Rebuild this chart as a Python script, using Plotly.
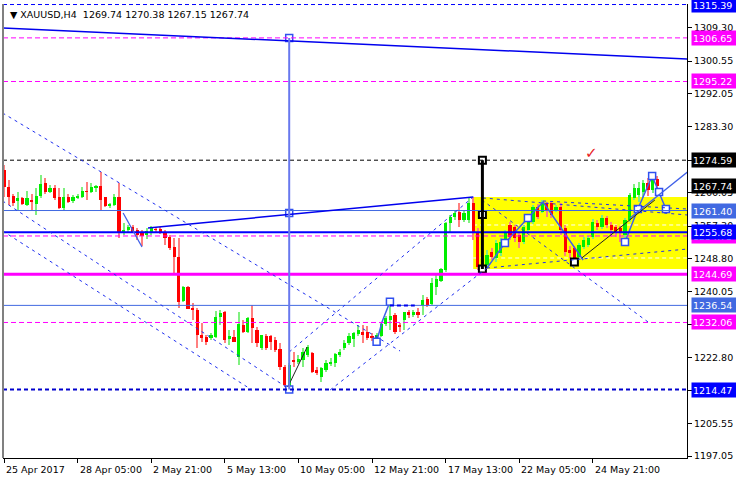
import plotly.graph_objects as go

# ---------------- data ----------------
tick_bars = [0, 16, 32, 48, 64, 80, 96, 112, 128]
tick_labels = ["25 Apr 2017", "28 Apr 05:00", "2 May 21:00", "5 May 13:00", "10 May 05:00",
               "12 May 21:00", "17 May 13:00", "22 May 05:00", "24 May 21:00"]

opens = [1272.02, 1267.57, 1265.21, 1263.90, 1264.69, 1262.85, 1264.16, 1263.11, 1265.21, 1268.62,
         1266.26, 1267.31, 1264.95, 1262.07, 1264.95, 1263.90, 1264.69, 1264.95, 1266.52, 1266.26,
         1267.31, 1267.83, 1264.95, 1262.59, 1262.85, 1264.95, 1255.52, 1256.30, 1257.09, 1256.30,
         1255.78, 1254.99, 1255.78, 1256.56, 1256.56, 1255.78, 1254.47, 1251.85, 1249.23, 1237.70,
         1241.36, 1235.86, 1235.34, 1228.78, 1228.26, 1227.99, 1228.26, 1233.50, 1234.81, 1227.73,
         1228.26, 1223.01, 1231.40, 1229.57, 1233.24, 1230.09, 1225.37, 1228.52, 1228.52, 1227.47,
         1225.11, 1220.39, 1214.89, 1221.97, 1221.70, 1222.23, 1223.54, 1224.06, 1219.61, 1217.77,
         1219.61, 1221.18, 1221.44, 1223.54, 1225.37, 1226.68, 1227.73, 1229.04, 1229.57, 1229.57,
         1228.52, 1227.21, 1228.52, 1231.66, 1232.71, 1234.03, 1231.40, 1232.71, 1234.81, 1234.03,
         1234.81, 1236.65, 1238.22, 1236.91, 1241.36, 1242.94, 1245.82, 1258.14, 1259.71, 1261.02,
         1258.92, 1258.92, 1263.38, 1255.78, 1246.87, 1247.13, 1250.54, 1248.96, 1250.27, 1252.37,
         1257.61, 1257.09, 1254.99, 1253.16, 1256.30, 1258.40, 1262.33, 1261.02, 1263.38, 1263.38,
         1261.54, 1262.33, 1256.83, 1251.06, 1251.58, 1249.23, 1251.85, 1252.37, 1254.47, 1258.14,
         1257.09, 1259.45, 1257.61, 1257.09, 1256.83, 1254.99, 1258.92, 1264.69, 1265.47, 1266.26,
         1268.62, 1266.78, 1269.74]
highs = [1273.33, 1269.40, 1265.73, 1266.26, 1264.95, 1266.52, 1265.73, 1267.31, 1270.71, 1269.92,
         1268.09, 1268.09, 1267.31, 1267.31, 1265.73, 1265.47, 1265.73, 1267.57, 1268.88, 1268.62,
         1268.09, 1271.50, 1264.95, 1263.38, 1265.73, 1268.62, 1258.14, 1257.61, 1257.61, 1256.83,
         1256.30, 1256.83, 1257.35, 1257.09, 1257.09, 1256.30, 1254.99, 1254.20, 1254.20, 1241.63,
         1241.63, 1237.17, 1235.86, 1231.93, 1228.78, 1229.31, 1235.08, 1235.34, 1235.08, 1230.09,
         1230.09, 1234.81, 1232.71, 1233.50, 1236.65, 1230.88, 1228.78, 1229.04, 1228.78, 1228.26,
         1226.68, 1220.92, 1221.44, 1224.33, 1223.54, 1225.37, 1226.16, 1224.33, 1220.39, 1220.39,
         1222.23, 1222.75, 1224.06, 1225.11, 1227.47, 1229.31, 1229.57, 1231.40, 1231.40, 1231.14,
         1229.31, 1229.31, 1232.19, 1233.76, 1237.44, 1234.55, 1231.93, 1234.81, 1235.34, 1235.34,
         1235.86, 1239.27, 1238.74, 1243.72, 1244.51, 1246.34, 1258.40, 1260.23, 1261.28, 1263.38,
         1261.54, 1264.69, 1264.95, 1256.83, 1251.06, 1251.06, 1251.58, 1253.68, 1254.20, 1256.30,
         1258.40, 1257.61, 1255.52, 1257.61, 1260.23, 1262.85, 1263.11, 1264.16, 1263.64, 1263.64,
         1262.85, 1263.38, 1257.61, 1252.11, 1252.11, 1252.89, 1254.47, 1254.73, 1259.18, 1258.92,
         1260.23, 1259.97, 1258.40, 1257.61, 1257.35, 1259.45, 1266.00, 1268.35, 1268.88, 1269.40,
         1269.92, 1270.45, 1270.38]
lows = [1264.95, 1262.85, 1262.59, 1261.54, 1262.85, 1262.59, 1261.54, 1260.23, 1264.69, 1265.73,
        1266.00, 1264.16, 1261.80, 1261.54, 1263.38, 1263.38, 1264.42, 1264.69, 1264.16, 1266.00,
        1266.26, 1261.54, 1262.33, 1262.07, 1262.59, 1254.20, 1254.99, 1255.78, 1255.52, 1253.68,
        1252.11, 1253.94, 1254.99, 1255.52, 1255.25, 1252.37, 1251.06, 1245.03, 1235.86, 1237.44,
        1235.60, 1232.71, 1225.37, 1226.95, 1226.16, 1227.47, 1227.99, 1231.40, 1226.68, 1226.16,
        1226.95, 1220.92, 1229.31, 1229.31, 1226.68, 1225.63, 1224.85, 1224.85, 1224.85, 1224.33,
        1219.61, 1215.20, 1214.47, 1220.39, 1221.18, 1220.39, 1223.01, 1218.82, 1218.30, 1216.46,
        1219.08, 1220.65, 1220.39, 1223.01, 1224.85, 1226.16, 1225.63, 1228.52, 1226.68, 1227.47,
        1227.21, 1226.95, 1228.26, 1231.14, 1230.09, 1229.04, 1229.57, 1230.09, 1233.24, 1233.50,
        1233.24, 1234.03, 1236.12, 1236.65, 1239.27, 1242.68, 1245.30, 1255.78, 1258.92, 1257.09,
        1258.40, 1258.14, 1253.68, 1245.82, 1245.82, 1246.34, 1248.44, 1247.92, 1249.49, 1251.85,
        1253.68, 1253.16, 1251.58, 1252.63, 1255.78, 1257.87, 1259.18, 1260.76, 1259.71, 1259.45,
        1261.02, 1254.99, 1249.49, 1248.96, 1247.92, 1248.70, 1251.32, 1251.85, 1253.94, 1256.30,
        1256.56, 1256.83, 1254.47, 1254.47, 1253.16, 1253.16, 1258.40, 1264.16, 1263.64, 1264.69,
        1265.21, 1266.00, 1267.15]
closes = [1267.57, 1264.95, 1263.38, 1264.69, 1263.11, 1264.69, 1263.64, 1265.21, 1268.35, 1266.26,
          1267.31, 1264.69, 1262.07, 1264.95, 1263.64, 1264.95, 1265.21, 1266.52, 1266.26, 1267.57,
          1267.57, 1264.16, 1262.59, 1263.11, 1264.95, 1255.52, 1256.30, 1257.09, 1255.78, 1254.99,
          1254.73, 1256.04, 1256.83, 1256.30, 1255.78, 1254.20, 1251.58, 1249.23, 1237.44, 1241.36,
          1235.60, 1235.34, 1228.78, 1227.99, 1226.95, 1228.78, 1233.50, 1234.55, 1227.47, 1228.52,
          1226.95, 1231.66, 1229.57, 1233.24, 1230.62, 1226.68, 1228.78, 1225.37, 1226.95, 1224.85,
          1220.39, 1215.67, 1220.92, 1221.70, 1222.49, 1224.33, 1225.63, 1219.08, 1218.82, 1220.13,
          1221.44, 1221.70, 1223.80, 1224.33, 1226.68, 1228.52, 1229.31, 1230.09, 1228.78, 1227.99,
          1227.99, 1228.78, 1231.66, 1233.24, 1233.76, 1229.57, 1230.88, 1234.81, 1234.03, 1234.81,
          1234.03, 1237.96, 1236.65, 1242.41, 1243.46, 1246.08, 1258.14, 1259.71, 1260.76, 1258.92,
          1260.76, 1263.38, 1255.78, 1246.61, 1249.75, 1249.75, 1249.23, 1252.89, 1253.16, 1255.52,
          1254.47, 1254.20, 1253.16, 1257.09, 1259.71, 1262.33, 1259.71, 1263.38, 1261.54, 1260.23,
          1262.33, 1256.30, 1250.54, 1250.27, 1248.96, 1252.37, 1253.68, 1254.20, 1258.40, 1257.09,
          1259.45, 1257.61, 1256.30, 1255.78, 1255.52, 1258.92, 1265.47, 1267.31, 1267.31, 1268.62,
          1266.78, 1269.92, 1267.74]

# horizontal levels: price, colour, dash, width
level_prices = [1315.39, 1306.65, 1295.22, 1274.59, 1261.40, 1255.68, 1254.73, 1244.69, 1236.54, 1232.06, 1214.47]
level_colors = ["#0000FF", "#FF00FF", "#FF00FF", "#000000", "#4169E1", "#0000FF", "#FF00FF", "#FF00FF", "#4169E1", "#FF00FF", "#0000CD"]
level_dash = ["4px,3px", "5px,3px", "5px,3px", "4px,3px", "solid", "solid", "5px,3px", "solid", "solid", "5px,3px", "4px,3px"]
level_width = [1, 1, 1, 1, 1, 2, 1, 3, 1, 1, 2]

# price labels on the right axis (drawn in this order)
label_prices = [1315.39, 1306.65, 1295.22, 1274.59, 1267.74, 1261.40, 1254.73, 1255.68, 1244.69, 1236.54, 1232.06, 1214.47]
label_colors = ["#0000FF", "#FF00FF", "#FF00FF", "#000000", "#000000", "#4169E1", "#FF00FF", "#0000FF", "#FF00FF", "#4169E1", "#FF00FF", "#0000FF"]

axis_ticks = [1197.05, 1205.55, 1214.30, 1222.80, 1231.55, 1240.05, 1248.80, 1257.30, 1266.05, 1274.55, 1283.30, 1292.05, 1300.55, 1309.30]

# drawn objects: (bar0, price0, bar1, price1)
solid_blue_lines = [(-0.3, 1309.24, 148.6, 1301.12), (31.3, 1256.83, 102.0, 1264.95)]
dashed_blue_lines = [(-0.3, 1286.96, 86.1, 1224.58), (-0.3, 1263.90, 62.0, 1214.63), (-0.3, 1256.04, 53.9, 1214.37),
                     (62.0, 1224.32, 102.0, 1264.95), (70.9, 1214.37, 105.0, 1246.34), (103.9, 1264.16, 140.0, 1232.19),
                     (104.1, 1264.69, 148.6, 1260.23), (117.2, 1263.90, 148.6, 1261.80), (105.0, 1246.34, 148.6, 1251.32)]
light_blue_segments = [(25.9, 1260.76, 30.0, 1251.85), (136.1, 1259.45, 148.6, 1271.50)]
black_thin_lines = [(125.6, 1248.96, 141.5, 1264.16), (61.7, 1215.15, 65.9, 1225.63)]
white_dash_prices = [1257.61, 1248.96]
box_bars = [102, 148.6]
box_prices = [1246.08, 1264.95]

zig1_x = [81.0, 82.2, 83.9]
zig1_y = [1227.02, 1232.25, 1237.49]
zig2_x = [105.0, 108.9, 113.9, 117.2, 125.9]
zig2_y = [1246.34, 1252.89, 1259.45, 1263.64, 1248.44]
zig3_x = [135.0, 137.8, 140.9, 142.4, 143.9]
zig3_y = [1253.16, 1261.80, 1270.45, 1266.26, 1261.80]
vline_blue_x = 62
vline_blue_y = [1214.47, 1260.76, 1306.65]
vline_black_x = 104
vline_black_y = [1246.08, 1260.33, 1274.59]

# ---------------- figure ----------------
n = len(opens)
bars = list(range(n))
up = [c >= o for o, c in zip(opens, closes)]
body_col = ["#00EE00" if u else "#FF0000" for u in up]
wick_col = ["#80F080" if u else "#FF8080" for u in up]

fig = go.Figure()
fig.add_trace(go.Bar(x=bars, y=[h - l for h, l in zip(highs, lows)], base=lows, width=0.24,
                     marker=dict(color=wick_col, line=dict(width=0)), hoverinfo="skip"))
fig.add_trace(go.Bar(x=bars, y=[max(abs(c - o), 0.2) for o, c in zip(opens, closes)],
                     base=[min(o, c) for o, c in zip(opens, closes)], width=0.66,
                     marker=dict(color=body_col, line=dict(width=0)), hoverinfo="skip"))

shapes = []
# yellow box
shapes.append(dict(type="rect", xref="x", yref="y", x0=box_bars[0], x1=box_bars[1], y0=box_prices[0], y1=box_prices[1],
                   fillcolor="#FFFF00", line=dict(width=0), layer="below"))
for p in white_dash_prices:
    shapes.append(dict(type="line", xref="x", yref="y", x0=box_bars[0], x1=box_bars[1], y0=p, y1=p,
                       line=dict(color="white", width=1, dash="4px,3px"), layer="below"))
for p, c, d, w in zip(level_prices, level_colors, level_dash, level_width):
    shapes.append(dict(type="line", xref="paper", yref="y", x0=0, x1=1, y0=p, y1=p,
                       line=dict(color=c, width=w, dash=d), layer="above"))
for x0, y0, x1, y1 in solid_blue_lines:
    shapes.append(dict(type="line", xref="x", yref="y", x0=x0, y0=y0, x1=x1, y1=y1,
                       line=dict(color="#0000EE", width=1.5), layer="above"))
for x0, y0, x1, y1 in dashed_blue_lines:
    shapes.append(dict(type="line", xref="x", yref="y", x0=x0, y0=y0, x1=x1, y1=y1,
                       line=dict(color="#2030F0", width=1, dash="3px,4px"), layer="above"))
for x0, y0, x1, y1 in light_blue_segments:
    shapes.append(dict(type="line", xref="x", yref="y", x0=x0, y0=y0, x1=x1, y1=y1,
                       line=dict(color="#4060E8", width=1.3), layer="above"))
for x0, y0, x1, y1 in black_thin_lines:
    shapes.append(dict(type="line", xref="x", yref="y", x0=x0, y0=y0, x1=x1, y1=y1,
                       line=dict(color="#202020", width=1), layer="above"))
# short thick dashed segment at 1236.54
shapes.append(dict(type="line", xref="x", yref="y", x0=83.9, x1=89.3, y0=1236.54, y1=1236.54,
                   line=dict(color="#0000EE", width=2, dash="4px,3px"), layer="above"))
# vertical lines
shapes.append(dict(type="line", xref="x", yref="y", x0=vline_blue_x, x1=vline_blue_x,
                   y0=vline_blue_y[0], y1=vline_blue_y[-1], line=dict(color="#6878EE", width=2), layer="above"))
shapes.append(dict(type="line", xref="x", yref="y", x0=vline_black_x, x1=vline_black_x,
                   y0=vline_black_y[0], y1=vline_black_y[-1], line=dict(color="#000000", width=3), layer="above"))
# left border
shapes.append(dict(type="line", xref="paper", yref="paper", x0=0, x1=0, y0=0, y1=1,
                   line=dict(color="#808080", width=2), layer="above"))

# zigzag polylines with square markers
for zx, zy in [(zig1_x, zig1_y), (zig2_x, zig2_y), (zig3_x, zig3_y)]:
    fig.add_trace(go.Scatter(x=zx, y=zy, mode="lines", line=dict(color="#4060E8", width=1.5),
                             hoverinfo="skip", cliponaxis=True))
sq_blue_x = [zig1_x[0], zig1_x[2], zig2_x[1], zig2_x[2]] + zig3_x + [vline_blue_x] * 3
sq_blue_y = [zig1_y[0], zig1_y[2], zig2_y[1], zig2_y[2]] + zig3_y + vline_blue_y
fig.add_trace(go.Scatter(x=sq_blue_x, y=sq_blue_y, mode="markers", hoverinfo="skip", cliponaxis=True,
                         marker=dict(symbol="square", size=7, color="white", line=dict(color="#3050F0", width=1.5))))
sq_black_x = [vline_black_x] * 3 + [zig2_x[4] - 1.9]
sq_black_y = vline_black_y + [1247.92]
fig.add_trace(go.Scatter(x=sq_black_x, y=sq_black_y, mode="markers", hoverinfo="skip", cliponaxis=True,
                         marker=dict(symbol="square", size=7, color="white", line=dict(color="#000000", width=2))))

font = "DejaVu Sans"
annotations = []
for b, t in zip(tick_bars, tick_labels):
    annotations.append(dict(x=b, y=0, xref="x", yref="paper", text=t, showarrow=False,
                            xanchor="left", yanchor="top", xshift=0, yshift=-4,
                            font=dict(family=font, size=9.5, color="#000000")))
for p, c in zip(label_prices, label_colors):
    annotations.append(dict(x=1, y=p, xref="paper", yref="y", text=f"{p:.2f}", showarrow=False,
                            xanchor="left", yanchor="middle", xshift=4, width=44, height=12, align="left",
                            bgcolor=c, borderpad=1, font=dict(family=font, size=9.5, color="white")))
annotations.append(dict(x=0, y=1, xref="paper", yref="paper",
                        text="\u25bc XAUUSD,H4\u00a0\u00a01269.74 1270.38 1267.15 1267.74", showarrow=False,
                        xanchor="left", yanchor="top", xshift=5, yshift=-3,
                        font=dict(family=font, size=9.5, color="#000000")))
annotations.append(dict(x=127.8, y=1276.6, xref="x", yref="y", text="\u2713", showarrow=False,
                        font=dict(family=font, size=15, color="#E82020")))

fig.update_layout(
    width=736, height=480,
    margin=dict(l=3, r=49, t=4, b=22),
    paper_bgcolor="white", plot_bgcolor="white",
    barmode="overlay", bargap=0, showlegend=False,
    shapes=shapes, annotations=annotations,
    xaxis=dict(range=[-0.217, 148.478], showgrid=False, zeroline=False, showline=True, linecolor="#000000",
               linewidth=1, ticks="outside", ticklen=4, tickcolor="#000000", tickvals=tick_bars,
               showticklabels=False, fixedrange=True),
    yaxis=dict(range=[1196.54, 1315.53], side="right", showgrid=False, zeroline=False, showline=True,
               linecolor="#000000", linewidth=1, ticks="outside", ticklen=4, tickcolor="#000000",
               tickvals=axis_ticks, ticktext=[f"{v:.2f}" for v in axis_ticks],
               tickfont=dict(family=font, size=9.5, color="#000000"), fixedrange=True),
)

fig.write_html("out.html", config={"displayModeBar": False},
               post_script="document.body.style.margin='0';document.body.style.overflow='hidden';")
